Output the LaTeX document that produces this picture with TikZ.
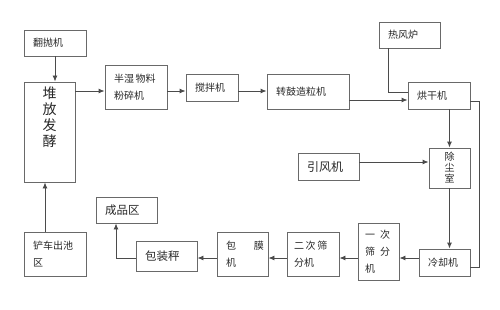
\documentclass[tikz,border=0pt]{standalone}
\usepackage{fontspec}
\newfontfamily\cjk{Noto Sans CJK SC}
\usetikzlibrary{arrows.meta,positioning}
\definecolor{BoxGray}{RGB}{105,105,105}
\definecolor{LineGray}{RGB}{75,75,75}
\definecolor{InkGray}{RGB}{40,40,40}
\tikzset{
  >=Latex,
  box/.style={draw=BoxGray,line width=0.9pt,fill=white,align=left,text=InkGray,font=\cjk\fontsize{10}{17}\selectfont,inner xsep=9pt,inner ysep=0pt},
  wide/.style={box,font=\cjk\fontsize{11.5}{17}\selectfont},
  tall/.style={box,align=center,font=\cjk\fontsize{10}{11}\selectfont},
  bigtext/.style={text=InkGray,align=center,font=\cjk\fontsize{14}{16}\selectfont,inner sep=0pt},
  arr/.style={-{Latex[length=6pt,width=5pt]},line width=0.9pt,draw=LineGray,color=LineGray},
  link/.style={line width=0.9pt,draw=LineGray}
}
\begin{document}
\begin{tikzpicture}[x=1pt,y=-1pt]
  \useasboundingbox (0,0) rectangle (500,310);
  \node[box,text width=44pt,minimum height=26pt] (fanpao) at (55,43) {翻抛机};
  \node[box,minimum width=51pt,minimum height=100pt] (duifang) at (49.5,132) {};
  \node[bigtext,below=5pt of duifang.north] (duifangtxt) {堆\\放\\发\\酵};
  \node[box,text width=44pt,minimum height=44pt] (banshi) at (136,87) {\mbox{半湿\,物料}\\粉碎机};
  \node[box,text width=34pt,minimum height=27pt] (jiaoban) at (212,87.5) {搅拌机};
  \node[box,text width=64pt,minimum height=35pt] (zhuangu) at (308,91.5) {转鼓造粒机};
  \node[box,text width=43pt,minimum height=26pt] (refeng) at (409.5,35) {热风炉};
  \node[box,text width=44pt,minimum height=27pt] (honggan) at (439,95.5) {烘干机};
  \node[tall,text width=23pt,minimum height=40pt] (chuchen) at (449.5,168) {除\\尘\\室};
  \node[box,text width=43pt,minimum height=27pt,font=\cjk\fontsize{12}{17}\selectfont] (yinfeng) at (328.5,166.5) {引风机};
  \node[box,text width=33pt,minimum height=27pt] (lengque) at (444.5,262.5) {冷却机};
  \node[box,inner xsep=7pt,text width=27pt,minimum height=57pt] (yici) at (378.5,251.5) {\mbox{一\hspace{5pt}次}\\\mbox{筛\hspace{5pt}分}\\机};
  \node[box,inner xsep=7pt,text width=38pt,minimum height=44pt] (erci) at (313,254) {\mbox{二\,次\,筛}\\分机};
  \node[box,inner xsep=6pt,text width=39pt,minimum height=44pt] (baomo) at (242.5,254) {\mbox{\hspace{3pt}包\hspace{18pt}膜}\\\hspace{3pt}机};
  \node[wide,text width=43pt,minimum height=30pt] (baozhuang) at (166.5,256) {包装秤};
  \node[wide,text width=43pt,minimum height=26pt] (chengpin) at (126.5,210) {成品区};
  \node[box,text width=44pt,minimum height=44pt] (chanche) at (55,254) {\mbox{铲车出池}\\区};
  \coordinate (toprow) at (0,91);
  \coordinate (dryrow) at (0,100);
  \coordinate (hotin) at (388,92);
  \coordinate (loopx) at (479,0);
  \coordinate (botrow) at (0,258);
  \coordinate (pickx) at (116,0);
  \draw[arr] (fanpao.south) -- (fanpao.south |- duifang.north);
  \draw[arr] (duifang.east |- toprow) -- (banshi.west |- toprow);
  \draw[arr] (banshi.east |- toprow) -- (jiaoban.west |- toprow);
  \draw[arr] (jiaoban.east |- toprow) -- (zhuangu.west |- toprow);
  \draw[arr] (zhuangu.east |- dryrow) -- (honggan.west |- dryrow);
  \draw[link] (refeng.south -| hotin) -- (hotin) -- (hotin -| honggan.west);
  \draw[arr] (honggan.south -| chuchen) -- (chuchen.north);
  \draw[arr] ([yshift=4.5pt]yinfeng.east) -- ([yshift=4.5pt]yinfeng.east -| chuchen.west);
  \draw[arr] (chuchen.south) -- (chuchen.south |- lengque.north);
  \draw[link] ([yshift=-5.5pt]honggan.east) -- ([yshift=-5.5pt]honggan.east -| loopx) -- ([yshift=-4.5pt]lengque.east -| loopx) -- ([yshift=-4.5pt]lengque.east);
  \draw[arr] (lengque.west |- botrow) -- (yici.east |- botrow);
  \draw[arr] (yici.west |- botrow) -- (erci.east |- botrow);
  \draw[arr] (erci.west |- botrow) -- (baomo.east |- botrow);
  \draw[arr] (baomo.west |- botrow) -- (baozhuang.east |- botrow);
  \draw[arr] (baozhuang.west |- botrow) -| (pickx |- chengpin.south);
  \draw[arr] ([xshift=-10pt]chanche.north) -- ([xshift=-10pt]chanche.north |- duifang.south);
\end{tikzpicture}
\end{document}
